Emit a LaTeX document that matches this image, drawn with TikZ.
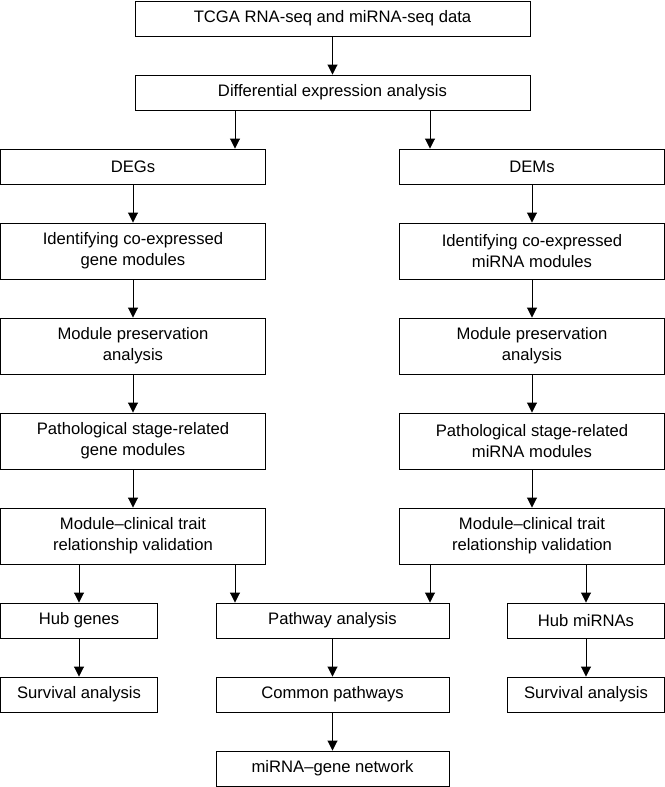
\documentclass[tikz,border=0pt]{standalone}
\usepackage{fontspec}
\setmainfont{Liberation Sans}
\usetikzlibrary{arrows.meta}
\begin{document}
\begin{tikzpicture}[x=0.3mm,y=-0.3mm,
		box/.style={draw,line width=0.8pt,align=center,inner sep=0pt,minimum height=10.5mm,font=\fontsize{14.2}{18}\selectfont},
		tall/.style={box,minimum height=16.8mm},
		wide/.style={minimum width=118.5mm},
		col/.style={minimum width=79.5mm},
		small/.style={minimum width=47.1mm},
		mid/.style={minimum width=69.9mm},
		arr/.style={-{Triangle[length=3mm,width=3mm]},line width=0.8pt}]
			\useasboundingbox (0,0) rectangle (665,787);
			\node[box,wide] (tcga) at (332.5,18.5) {TCGA RNA-seq and miRNA-seq data};
			\node[box,wide] (diff) at (332.5,92.5) {Differential expression analysis};
			\node[box,col] (degs) at (133,166.5) {DEGs};
			\node[box,col] (dems) at (532,166.5) {DEMs};
			\node[tall,col] (identg) at (133,251) {Identifying co-expressed\\gene modules};
			\node[tall,col] (identm) at (532,251) {Identifying co-expressed\\miRNA modules};
			\node[tall,col] (presg) at (133,346) {Module preservation\\analysis};
			\node[tall,col] (presm) at (532,346) {Module preservation\\analysis};
			\node[tall,col] (stageg) at (133,441) {Pathological stage-related\\gene modules};
			\node[tall,col] (stagem) at (532,441) {Pathological stage-related\\miRNA modules};
			\node[tall,col] (traitg) at (133,536) {Module--clinical trait\\relationship validation};
			\node[tall,col] (traitm) at (532,536) {Module--clinical trait\\relationship validation};
			\node[box,small] (hubg) at (79,620.5) {Hub genes};
			\node[box,mid] (pathw) at (332.5,620.5) {Pathway analysis};
			\node[box,small] (hubm) at (586,620.5) {Hub miRNAs};
			\node[box,small] (survg) at (79,694.5) {Survival analysis};
			\node[box,mid] (common) at (332.5,694.5) {Common pathways};
			\node[box,small] (survm) at (586,694.5) {Survival analysis};
			\node[box,mid] (net) at (332.5,768.5) {miRNA--gene network};
			\coordinate (xl) at (235,0);
			\coordinate (xr) at (430,0);
			\draw[arr] (tcga) -- (diff);
			\draw[arr] (diff.south -| xl) -- (degs.north -| xl);
			\draw[arr] (diff.south -| xr) -- (dems.north -| xr);
			\draw[arr] (degs) -- (identg);
			\draw[arr] (dems) -- (identm);
			\draw[arr] (identg) -- (presg);
			\draw[arr] (identm) -- (presm);
			\draw[arr] (presg) -- (stageg);
			\draw[arr] (presm) -- (stagem);
			\draw[arr] (stageg) -- (traitg);
			\draw[arr] (stagem) -- (traitm);
			\draw[arr] (traitg.south -| hubg) -- (hubg);
			\draw[arr] (traitg.south -| xl) -- (pathw.north -| xl);
			\draw[arr] (traitm.south -| xr) -- (pathw.north -| xr);
			\draw[arr] (traitm.south -| hubm) -- (hubm);
			\draw[arr] (hubg) -- (survg);
			\draw[arr] (pathw) -- (common);
			\draw[arr] (hubm) -- (survm);
			\draw[arr] (common) -- (net);
		\end{tikzpicture}
\end{document}
